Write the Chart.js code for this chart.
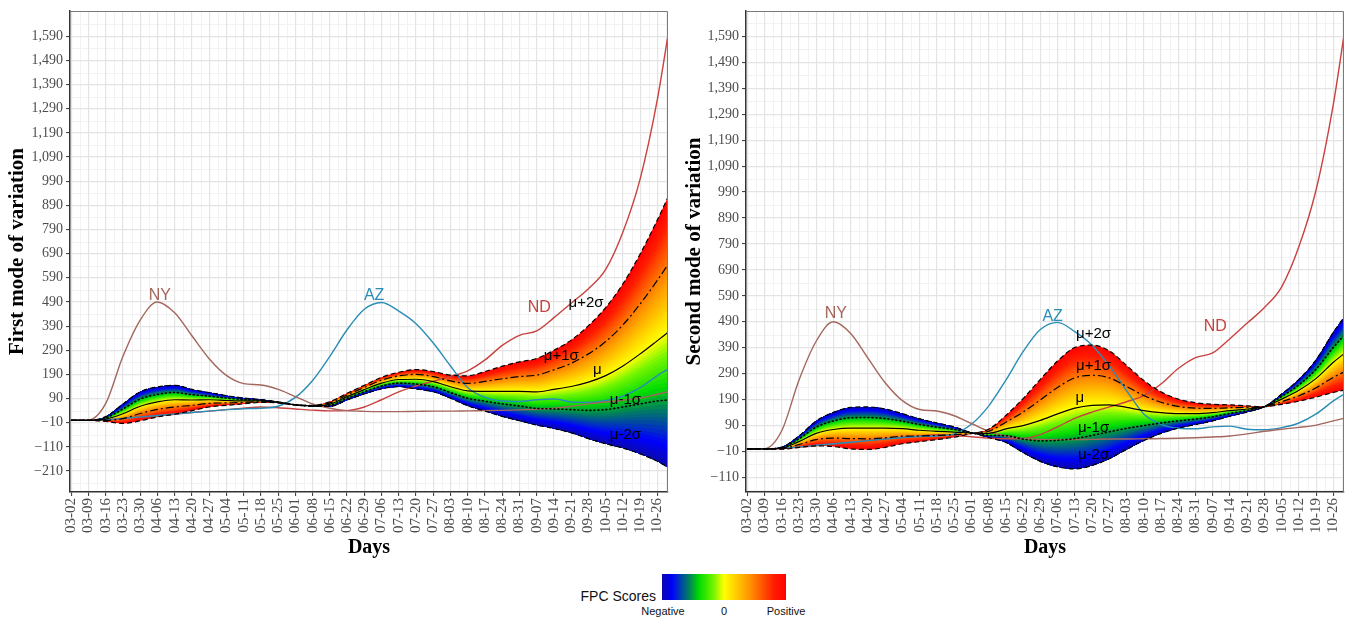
<!DOCTYPE html>
<html>
<head>
<meta charset="utf-8">
<script src="https://cdn.jsdelivr.net/npm/chart.js@4.4.1/dist/chart.umd.min.js"></script>
<style>
  body { margin: 0; background: #fff; width: 1348px; height: 622px; overflow: hidden; position: relative;
         font-family: "Liberation Sans", Arial, sans-serif; }
  #pc1 { position: absolute; left: 0; top: 0; }
  #pc2 { position: absolute; left: 680px; top: 0; }
  #scoreTitle { position: absolute; left: 540px; width: 116px; top: 588px; text-align: right; font-size: 14px; color: #111; }
  #scoreBar { position: absolute; left: 662px; top: 574px; width: 124px; height: 26px; }
  .scoreTick { position: absolute; top: 605px; font-size: 11px; color: #111; width: 60px; text-align: center; }
</style>
</head>
<body>
<canvas id="pc1" width="680" height="560"></canvas>
<canvas id="pc2" width="668" height="560"></canvas>
<div id="scoreTitle">FPC Scores</div>
<div id="scoreBar"></div>
<div class="scoreTick" style="left:633px">Negative</div>
<div class="scoreTick" style="left:694px">0</div>
<div class="scoreTick" style="left:756px">Positive</div>
<script>
// weekly x labels (days since 03-02)
const dateLabels = ['03-02','03-09','03-16','03-23','03-30','04-06','04-13','04-20','04-27','05-04','05-11','05-18',
  '05-25','06-01','06-08','06-15','06-22','06-29','07-06','07-13','07-20','07-27','08-03','08-10','08-17','08-24',
  '08-31','09-07','09-14','09-21','09-28','10-05','10-12','10-19','10-26'];
const sampleDays = [0,7,14,21,28,35,42,49,56,63,70,77,84,91,98,105,112,119,126,133,140,147,154,161,168,175,
  182,189,196,203,210,217,224,231,238,243];

// smoothed state curves
const nyCases = [0,1,70,265,415,490,445,350,255,186,152,146,128,98,68,50,40,37,36,36,37,38,38,39,40,41,43,46,50,58,68,76,83,92,108,120];
const azCases = [0,0,3,8,14,20,26,32,38,44,48,50,58,95,165,265,375,460,488,452,400,320,225,135,95,80,78,85,88,76,74,82,100,135,185,215];
const ndCases = [0,0,2,6,12,18,25,32,38,44,50,55,52,47,42,39,40,55,85,118,142,162,182,205,250,310,352,370,425,485,545,625,780,1000,1330,1640];

// mean function and one-sd displacement along each principal component
const meanPc1 = [0,0,5,27,58,76,85,84,85,82,80,80,74,64,60,67,98,127,154,169,170,160,139,122,120,120,120,118,128,140,158,185,225,275,330,370];
const sdPc1 = [0,0,-5,-20,-30,-31,-30,-22,-15,-10,-6,-3,-1,0,1,5,7,9,12,15,20,21,24,31,41,52,61,69,81,96,117,141,170,207,250,285];
const meanPc2 = [0,0,3,28,60,75,80,80,80,78,72,68,65,61,60,77,90,110,135,157,168,170,160,148,140,136,136,140,148,154,163,192,226,272,334,372];
const sdPc2 = [0,0,-2,-11,-24,-33,-40,-41,-37,-29,-22,-16,-10,-1,8,26,52,79,102,117,116,104,81,58,40,28,21,16,11,6,0,-10,-21,-36,-58,-72];

const yTicks1 = [-210,-110,-10,90,190,290,390,490,590,690,790,890,990,1090,1190,1290,1390,1490,1590];
const yTicks2 = [-110,-10,90,190,290,390,490,590,690,790,890,990,1090,1190,1290,1390,1490,1590];

const NY_COLOR = '#a3675d', AZ_COLOR = '#2a8db5', ND_COLOR = '#c8423f';
const SERIF = '"Liberation Serif", "Times New Roman", serif';
const SANS = '"Liberation Sans", Arial, sans-serif';

// blue -> green -> yellow -> red score palette
const scoreStops = [[0,[10,10,170]],[0.08,[0,0,255]],[0.22,[0,130,90]],[0.3,[0,220,0]],[0.42,[120,245,0]],
  [0.5,[255,255,0]],[0.72,[255,140,0]],[0.9,[255,30,0]],[1,[255,0,0]]];
function scoreColor(t) {
  t = Math.min(1, Math.max(0, t));
  for (let i = 1; i < scoreStops.length; i++) {
    const [t1, c1] = scoreStops[i];
    const [t0, c0] = scoreStops[i - 1];
    if (t <= t1) {
      const f = (t - t0) / (t1 - t0);
      const c = c0.map((v, j) => Math.round(v + (c1[j] - v) * f));
      return `rgb(${c[0]},${c[1]},${c[2]})`;
    }
  }
  return 'rgb(255,0,0)';
}
document.getElementById('scoreBar').style.background =
  'linear-gradient(to right,' + scoreStops.map(([t, c]) => `rgb(${c.join(',')}) ${t * 100}%`).join(',') + ')';

const fmt = v => (v < 0 ? '\u2212' : '') + Math.abs(v).toLocaleString('en-US');
const pts = arr => sampleDays.map((d, i) => ({ x: d, y: arr[i] }));

function buildDatasets(mean, sd) {
  const curve = k => sampleDays.map((d, i) => ({ x: d, y: mean[i] + k * sd[i] }));
  const none = 'rgba(0,0,0,0)';
  const sets = [{ data: curve(-2), borderColor: none, borderWidth: 0, fill: false, order: 1000 }];
  // painter's strips: each fills from its curve down to the -2 sd curve
  const N = 60;
  for (let i = 0; i < N; i++) {
    const k = 2 - i * 4 / N;
    sets.push({ data: curve(k), borderColor: none, borderWidth: 0, fill: 0,
      backgroundColor: scoreColor((k - 2 / N + 2) / 4), order: 900 - i });
  }
  const states = [[nyCases, NY_COLOR], [azCases, AZ_COLOR], [ndCases, ND_COLOR]];
  for (const [arr, col] of states) {
    sets.push({ data: pts(arr), borderColor: col, borderWidth: 1.4, fill: false, order: 1 });
  }
  const styles = [[2, [5, 3]], [1, [8, 3, 2, 3]], [0, []], [-1, [1, 3]], [-2, [5, 3]]];
  for (const [k, dash] of styles) {
    sets.push({ data: curve(k), borderColor: '#000', borderWidth: k === -1 ? 1.6 : 1.2,
      borderDash: dash, borderCapStyle: k === -1 ? 'round' : 'butt', fill: false, order: 0 });
  }
  return sets;
}

const panelPlugin = {
  id: 'panel',
  beforeDraw(chart, args, opts) {
    const { ctx, chartArea: a, scales: { x, y } } = chart;
    ctx.save();
    ctx.strokeStyle = '#f2f2f2';
    ctx.lineWidth = 1;
    ctx.beginPath();
    for (let d = 3.5; d < x.max; d += 7) {
      const px = Math.round(x.getPixelForValue(d)) + 0.5;
      ctx.moveTo(px, a.top); ctx.lineTo(px, a.bottom);
    }
    const ticks = opts.yTicks;
    const minors = ticks.map(v => v - 50).concat([ticks[ticks.length - 1] + 50]);
    for (const v of minors) {
      if (v < y.min || v > y.max) continue;
      const py = Math.round(y.getPixelForValue(v)) + 0.5;
      ctx.moveTo(a.left, py); ctx.lineTo(a.right, py);
    }
    ctx.stroke();
    ctx.restore();
  },
  afterDraw(chart) {
    const { ctx, chartArea: a } = chart;
    ctx.save();
    ctx.strokeStyle = '#7a7a7a';
    ctx.lineWidth = 1;
    ctx.beginPath();
    ctx.moveTo(a.left, a.top + 0.5); ctx.lineTo(a.right - 0.5, a.top + 0.5); ctx.lineTo(a.right - 0.5, a.bottom);
    ctx.stroke();
    ctx.restore();
  }
};

const textPlugin = {
  id: 'curveText',
  afterDatasetsDraw(chart, args, opts) {
    const { ctx, scales: { x, y } } = chart;
    ctx.save();
    ctx.textAlign = 'center';
    ctx.textBaseline = 'middle';
    for (const t of opts.items) {
      ctx.font = t.font;
      ctx.fillStyle = t.color;
      ctx.fillText(t.text, x.getPixelForValue(t.x), y.getPixelForValue(t.y));
    }
    ctx.restore();
  }
};

function makeChart(id, cfg) {
  const stateFont = '16px ' + SANS, muFont = '15px ' + SANS;
  const items = cfg.labels.map(([text, x, y]) => ({
    text, x, y,
    font: text[0] === 'μ' ? muFont : stateFont,
    color: text === 'NY' ? NY_COLOR : text === 'AZ' ? AZ_COLOR : text === 'ND' ? ND_COLOR : '#000'
  }));
  return new Chart(document.getElementById(id), {
    type: 'line',
    data: { datasets: buildDatasets(cfg.mean, cfg.sd) },
    plugins: [panelPlugin, textPlugin],
    options: {
      responsive: false,
      animation: false,
      layout: { padding: { top: 11, right: cfg.right, left: 0, bottom: 0 } },
      elements: { point: { radius: 0 }, line: { cubicInterpolationMode: 'monotone' } },
      plugins: {
        legend: { display: false },
        tooltip: { enabled: false },
        panel: { yTicks: cfg.yTicks },
        curveText: { items }
      },
      scales: {
        x: {
          type: 'linear', min: -0.5, max: 242.3,
          afterBuildTicks: s => { s.ticks = dateLabels.map((_, i) => ({ value: i * 7 })); },
          afterFit: s => { s.height = 68; s.paddingLeft = 0; s.paddingRight = 0; },
          ticks: { autoSkip: false, minRotation: 90, maxRotation: 90, padding: 2, color: '#4d4d4d',
                   font: { family: SERIF, size: 15 }, callback: (v, i) => dateLabels[i] },
          grid: { color: '#e4e4e4', lineWidth: 1.2, tickColor: '#333', tickLength: 4, tickWidth: 1 },
          border: { color: '#333', width: 1.5 },
          title: { display: true, text: 'Days', color: '#000', padding: { top: 0, bottom: 0 },
                   font: { family: SERIF, size: 20, weight: 'bold' } }
        },
        y: {
          min: cfg.yMin, max: cfg.yMax,
          afterBuildTicks: s => { s.ticks = cfg.yTicks.map(v => ({ value: v })); },
          afterFit: s => { s.width = cfg.yWidth; s.paddingTop = 0; s.paddingBottom = 0; },
          ticks: { padding: 3, color: '#4d4d4d', font: { family: SERIF, size: 14 }, callback: v => fmt(v) },
          grid: { color: '#e4e4e4', lineWidth: 1.2, tickColor: '#333', tickLength: 4, tickWidth: 1 },
          border: { color: '#333', width: 1.5 },
          title: { display: true, text: cfg.title, color: '#000', padding: { top: cfg.titlePad, bottom: 0 },
                   font: { family: SERIF, size: 21, weight: 'bold' } }
        }
      }
    }
  });
}

makeChart('pc1', {
  mean: meanPc1, sd: sdPc1, yTicks: yTicks1, yMin: -297, yMax: 1695, yWidth: 70, right: 12, titlePad: 5,
  title: 'First mode of variation',
  labels: [['NY', 36, 518], ['AZ', 123, 518], ['ND', 190, 468], ['μ+2σ', 209, 485], ['μ+1σ', 199, 266],
           ['μ', 213.6, 208], ['μ-1σ', 225, 84], ['μ-2σ', 225, -61]]
});
makeChart('pc2', {
  mean: meanPc2, sd: sdPc2, yTicks: yTicks2, yMin: -166, yMax: 1688, yWidth: 66, right: 4, titlePad: 2,
  title: 'Second mode of variation',
  labels: [['NY', 36, 523], ['AZ', 124, 512], ['ND', 190, 470], ['μ+2σ', 140.6, 443], ['μ+1σ', 140.6, 320],
           ['μ', 135, 197], ['μ-1σ', 140.6, 81], ['μ-2σ', 140.6, -23]]
});
</script>
</body>
</html>
